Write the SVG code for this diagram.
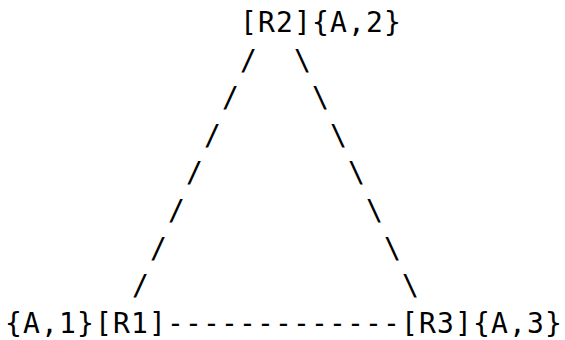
<svg xmlns="http://www.w3.org/2000/svg" width="565" height="340" viewBox="0 0 565 340">
<style>
text{font-family:"DejaVu Sans Mono","Liberation Mono",monospace;font-size:28px;letter-spacing:1.14px;fill:#000;white-space:pre}
</style>
<rect width="565" height="340" fill="#fff"/>
<g id="R2"><text x="240" y="32">[R2]{A,2}</text></g>
<g id="R1"><text x="5" y="332.8">{A,1}[R1]</text></g>
<g id="R3"><text x="401" y="332.8">[R3]{A,3}</text></g>
<g id="connectors">
<text x="240" y="69.6">/</text><text x="294" y="69.6">\</text>
<text x="222" y="107.2">/</text><text x="312" y="107.2">\</text>
<text x="204" y="144.8">/</text><text x="330" y="144.8">\</text>
<text x="186" y="182.4">/</text><text x="348" y="182.4">\</text>
<text x="168" y="220">/</text><text x="366" y="220">\</text>
<text x="150" y="257.6">/</text><text x="384" y="257.6">\</text>
<text x="132" y="295.2">/</text><text x="402" y="295.2">\</text>
<text x="167" y="332.8">-------------</text>
</g>
</svg>
